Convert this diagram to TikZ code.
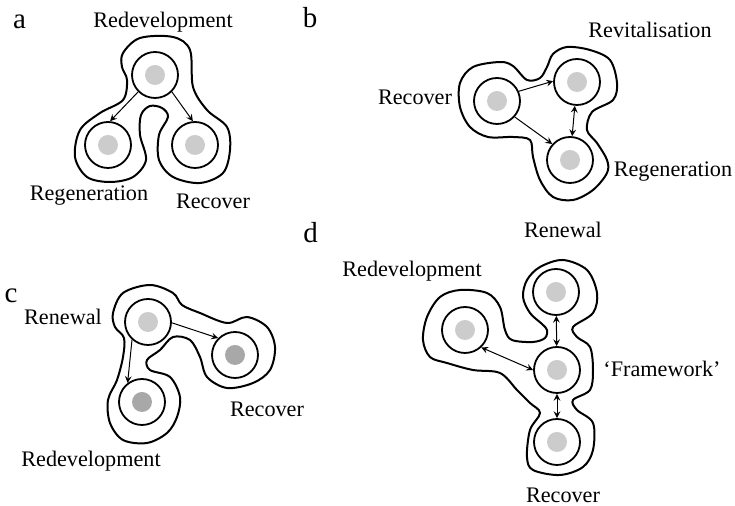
\documentclass[tikz,border=0pt]{standalone}
\usepackage{fontspec}
\setmainfont{Liberation Serif}
\usepackage{tikz}
\usetikzlibrary{arrows}
\usepackage{xcolor}
\definecolor{dotlight}{gray}{0.80}
\definecolor{dotdark}{gray}{0.66}

\tikzset{
  ring/.style={circle,draw=black,line width=0.9pt,minimum size=23pt,inner sep=0pt,
    path picture={\fill [#1](path picture bounding box.center) circle (5pt);}},
  ring/.default=dotlight,
  lbl/.style={inner sep=0pt,font=\fontsize{11.1}{13}\selectfont},
  panel/.style={inner sep=0pt,font=\fontsize{14.5}{16}\selectfont},
  blob/.style={black,line width=1pt},
  link/.style={black,line width=0.5pt}
}

\begin{document}
\begin{tikzpicture}[x=0.5pt,y=-0.5pt,>=stealth]
\useasboundingbox (0,0) rectangle (735,506);

\node [panel] (pa) at (19.5,21.5) {a};
\node [panel] (pb) at (310,18) {b};
\node [panel] (pc) at (11,296) {c};
\node [panel] (pd) at (310.5,232.5) {d};

\draw [blob] plot [smooth cycle,tension=0.55] coordinates {(123,53) (140,38) (173,37) (190,50) (193,87) (207,110) (227,127) (230,150) (223,173) (200,183) (173,177) (159,160) (159,135) (168,117) (162,108) (150,106) (141,115) (140,135) (146,160) (133,177) (110,182) (87,177) (75,157) (80,130) (100,113) (123,100) (127,80) (122,67)};
\node [ring] (aRedev) at (155,75) {};
\node [ring] (aRegen) at (108,145) {};
\node [ring] (aRecover) at (195,145) {};
\draw [link,->](aRedev.225)--(aRegen.85);
\draw [link,->](aRedev.315)--(aRecover.95);
\node [lbl] (aRedevL) at (163,22) {Redevelopment};
\node [lbl] (aRegenL) at (89,196) {Regeneration};
\node [lbl] (aRecoverL) at (213,201) {Recover};

\draw [blob] plot [smooth cycle,tension=0.55] coordinates {(460,83) (473,67) (500,62) (513,66) (527,80) (540,78) (547,67) (553,54) (567,47) (590,50) (610,60) (617,83) (613,100) (592,112) (587,130) (597,143) (607,160) (607,173) (593,190) (573,200) (553,197) (540,180) (533,157) (530,140) (513,137) (488,137) (470,127) (460,107)};
\node [ring] (bRecover) at (497,101) {};
\node [ring] (bRevit) at (577,82) {};
\node [ring] (bRegen) at (570,160) {};
\draw [link,->](bRecover.24)--(bRevit.178);
\draw [link,->](bRecover.318)--(bRegen.138);
\draw [link,<->](bRevit)--(bRegen);
\node [lbl] (bRevitL) at (650,30) {Revitalisation};
\node [lbl] (bRecoverL) at (415,97) {Recover};
\node [lbl] (bRegenL) at (673,172) {Regeneration};

\draw [blob] plot [smooth cycle,tension=0.55] coordinates {(113,313) (123,293) (150,285) (173,293) (182,305) (200,313) (227,323) (247,317) (267,327) (275,347) (270,370) (253,383) (227,388) (207,377) (200,357) (190,340) (173,337) (160,350) (147,360) (150,370) (170,377) (180,397) (177,417) (167,433) (147,443) (123,440) (110,423) (108,400) (117,380) (123,357) (124,338) (115,327)};
\node [ring] (cRenewal) at (148,322) {};
\node [ring=dotdark] (cRecover) at (235,355) {};
\node [ring=dotdark] (cRedev) at (142,402) {};
\draw [link,->](cRenewal.358)--(cRecover.135);
\draw [link,->](cRenewal.228)--(cRedev.127);
\node [lbl] (cRenewalL) at (63,317) {Renewal};
\node [lbl] (cRecoverL) at (267,409) {Recover};
\node [lbl] (cRedevL) at (91,461) {Redevelopment};

\draw [blob] plot [smooth cycle,tension=0.55] coordinates {(540,267) (563,260) (587,270) (597,293) (593,313) (573,327) (577,337) (590,347) (593,370) (590,390) (573,400) (577,410) (593,423) (593,450) (583,467) (560,475) (533,470) (527,457) (530,430) (540,413) (530,403) (517,390) (500,373) (473,370) (447,363) (430,357) (423,340) (427,317) (440,297) (460,290) (487,293) (500,307) (505,330) (512,340) (533,342) (545,338) (547,330) (542,324) (530,313) (523,297) (527,280)};
\node [ring] (dRenewal) at (556,292) {};
\node [ring] (dFrame) at (557,370) {};
\node [ring] (dRecover) at (557,442) {};
\node [ring] (dRedev) at (465,330) {};
\draw [link,<->](dRenewal)--(dFrame);
\draw [link,<->](dFrame)--(dRecover);
\draw [link,<->](dRedev.313)--(dFrame.180);
\node [lbl] (dRenewalL) at (563,230) {Renewal};
\node [lbl] (dRedevL) at (412,271) {Redevelopment};
\node [lbl] (dFrameL) at (662,369) {`Framework'};
\node [lbl] (dRecoverL) at (563,495) {Recover};
\end{tikzpicture}
\end{document}
